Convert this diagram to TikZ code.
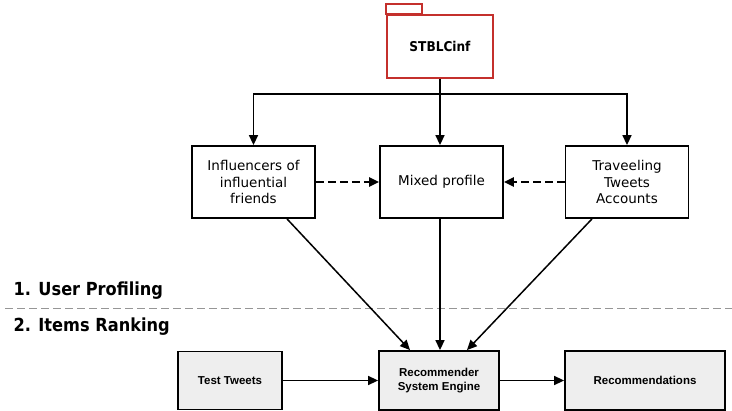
\documentclass[tikz,border=0pt]{standalone}
\usepackage{fontspec}
\setmainfont{DejaVu Sans}
\IfFontExistsTF{DejaVu Sans Condensed}
  {\newfontfamily\condfont{DejaVu Sans Condensed}}
  {\newfontfamily\condfont{DejaVu Sans}}
\newfontfamily\arialfont{Liberation Sans}
\usetikzlibrary{arrows.meta}

\definecolor{pkgred}{RGB}{196,48,44}
\definecolor{boxgray}{RGB}{238,238,238}
\definecolor{sepgray}{RGB}{150,150,150}

\tikzset{
  tip/.style={-{Triangle[length=10pt,width=9pt]}},
  conn/.style={line width=1.5pt},
  profilebox/.style={draw,line width=1.8pt,minimum width=123pt,minimum height=72pt,
    align=center,font=\fontsize{13.5}{16.5}\selectfont},
  rankbox/.style={draw,fill=boxgray,line width=1.8pt,minimum height=59pt,
    align=center,font=\arialfont\bfseries\fontsize{11.5}{14}\selectfont},
  phase/.style={anchor=west,font=\condfont\bfseries\fontsize{18}{20}\selectfont}
}

\begin{document}
\begin{tikzpicture}[x=1pt,y=-1pt]
  \useasboundingbox (0,0) rectangle (732,411);

  % package on top
  \node[draw=pkgred,line width=1.6pt,minimum width=106pt,minimum height=63pt,
        font=\condfont\bfseries\fontsize{13.5}{15}\selectfont] (stblc) at (440,46.5) {STBLCinf};
  \draw[pkgred,line width=1.6pt] (stblc.north west) rectangle ++(36,-10);

  % user profiling
  \node[profilebox] (infl) at (253.5,182) {Influencers of\\influential\\friends};
  \node[profilebox] (mixed) at (441.5,182) {Mixed profile};
  \node[profilebox] (trav) at (627,182) {Traveeling\\Tweets\\Accounts};

  \coordinate (split) at (440,94);
  \draw[conn] (stblc.south) -- (split);
  \draw[conn,tip] (split) -| (infl.north);
  \draw[conn,tip] (split) -| (trav.north);
  \draw[conn,tip] (split) -- (mixed.north -| split);

  \draw[line width=2.4pt,dash pattern=on 8pt off 4pt,tip] (infl.east) -- (mixed.west);
  \draw[line width=2.4pt,dash pattern=on 8pt off 4pt,tip] (trav.west) -- (mixed.east);

  % phases
  \node[phase] (up) at (10,291) {1. User Profiling};
  \node[phase] (ir) at (10,327) {2. Items Ranking};
  \coordinate (sepL) at (5,308.5);
  \coordinate (sepR) at (732,308.5);
  \draw[sepgray,line width=1.6pt,dash pattern=on 8pt off 4pt] (sepL) -- (sepR);

  % items ranking
  \node[rankbox,minimum width=104pt,minimum height=58pt] (test) at (230,380.5) {Test Tweets};
  \node[rankbox,minimum width=120pt] (rse) at (439,380.5) {Recommender\\System Engine};
  \node[rankbox,minimum width=160pt] (recs) at (645,380.5) {Recommendations};

  \draw[conn,tip] ([xshift=33.5pt]infl.south) -- ([xshift=-29pt]rse.north);
  \draw[conn,tip] (mixed.south -| split) -- (rse.north -| split);
  \draw[conn,tip] ([xshift=-35pt]trav.south) -- ([xshift=28pt]rse.north);

  \draw[conn,tip] (test) -- (rse);
  \draw[conn,tip] (rse) -- (recs);
\end{tikzpicture}
\end{document}
